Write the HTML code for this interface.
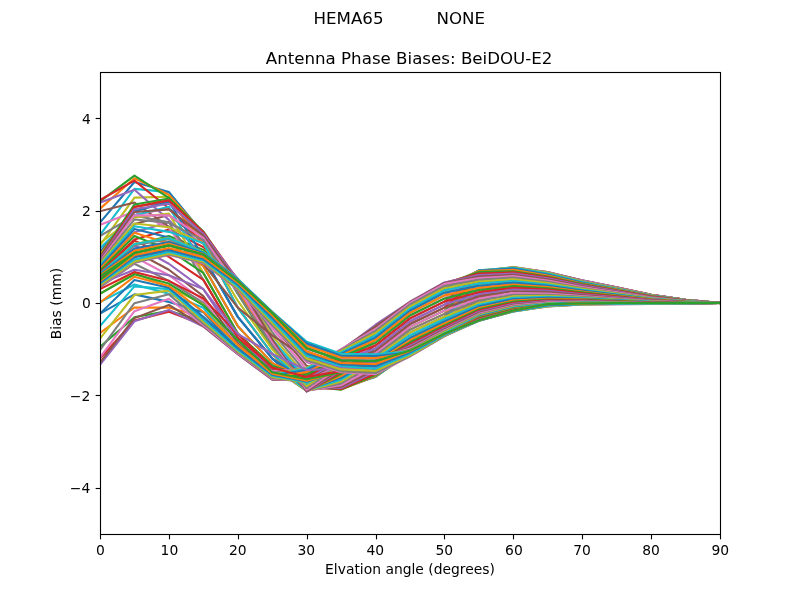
<!DOCTYPE html>
<html><head><meta charset="utf-8"><title>Antenna Phase Biases</title>
<style>html,body{margin:0;padding:0;background:#fff}svg{display:block}text{font-family:'DejaVu Sans','Liberation Sans',sans-serif;fill:#000}</style></head><body>
<svg width="800" height="600" viewBox="0 0 800 600">
<rect x="0" y="0" width="800" height="600" fill="#fff"/>
<g stroke="#000" stroke-width="1.111" fill="none">
<path d="M100.50 534.5v4.861"/>
<path d="M169.50 534.5v4.861"/>
<path d="M238.50 534.5v4.861"/>
<path d="M307.50 534.5v4.861"/>
<path d="M376.50 534.5v4.861"/>
<path d="M444.50 534.5v4.861"/>
<path d="M513.50 534.5v4.861"/>
<path d="M582.50 534.5v4.861"/>
<path d="M651.50 534.5v4.861"/>
<path d="M720.50 534.5v4.861"/>
<path d="M100.5 488.50h-4.861"/>
<path d="M100.5 395.50h-4.861"/>
<path d="M100.5 303.50h-4.861"/>
<path d="M100.5 211.50h-4.861"/>
<path d="M100.5 118.50h-4.861"/>
</g>
<g font-size="13.889" text-anchor="middle">
<text x="100.44" y="555.32">0</text>
<text x="169.45" y="555.32">10</text>
<text x="237.83" y="555.32">20</text>
<text x="306.39" y="555.32">30</text>
<text x="375.31" y="555.32">40</text>
<text x="444.33" y="555.32">50</text>
<text x="513.95" y="555.32">60</text>
<text x="582.14" y="555.32">70</text>
<text x="650.98" y="555.32">80</text>
<text x="720.38" y="555.32">90</text>
<text x="410.05" y="574.27">Elvation angle (degrees)</text>
</g>
<g font-size="13.889" text-anchor="end">
<text x="90.28" y="493.03">−4</text>
<text x="90.28" y="400.68">−2</text>
<text x="90.72" y="308.37">0</text>
<text x="90.75" y="215.88">2</text>
<text x="90.78" y="124.41">4</text>
</g>
<text font-size="13.889" text-anchor="middle" transform="translate(61.36 303.60) rotate(-90)">Bias (mm)</text>
<text font-size="16.667" text-anchor="middle" x="409.10" y="63.67">Antenna Phase Biases: BeiDOU-E2</text>
<text font-size="16.667" text-anchor="middle" x="399.25" y="23.81" xml:space="preserve" style="white-space:pre">HEMA65          NONE</text>
<defs><clipPath id="c"><rect x="100.5" y="72.5" width="620" height="462"/></clipPath></defs>
<g clip-path="url(#c)" fill="none" stroke-width="2.083" stroke-linejoin="round" stroke-linecap="square">
<polyline stroke="#1f77b4" points="100.00,279.90 134.44,253.10 168.89,245.48 203.33,254.58 237.78,281.29 272.22,313.16 306.67,348.28 341.11,360.29 375.56,361.21 410.00,350.47 444.44,333.52 478.89,320.45 513.33,310.99 547.78,304.45 582.22,303.73 616.67,302.96 651.11,302.98 685.56,302.99 720.00,303.00"/>
<polyline stroke="#ff7f0e" points="100.00,277.86 134.44,249.77 168.89,241.39 203.33,252.18 237.78,280.36 272.22,314.55 306.67,351.51 341.11,362.64 375.56,362.89 410.00,350.85 444.44,333.62 478.89,320.27 513.33,310.89 547.78,304.49 582.22,303.67 616.67,302.97 651.11,303.01 685.56,303.02 720.00,303.00"/>
<polyline stroke="#2ca02c" points="100.00,275.28 134.44,245.25 168.89,236.01 203.33,249.87 237.78,279.44 272.22,316.40 306.67,354.74 341.11,366.76 375.56,365.83 410.00,352.03 444.44,334.03 478.89,320.15 513.33,310.92 547.78,304.81 582.22,303.65 616.67,303.09 651.11,303.14 685.56,303.10 720.00,303.00"/>
<polyline stroke="#d62728" points="100.00,272.11 134.44,239.40 168.89,229.41 203.33,247.10 237.78,278.98 272.22,318.71 306.67,358.44 341.11,370.65 375.56,368.68 410.00,353.45 444.44,334.53 478.89,319.57 513.33,310.28 547.78,304.60 582.22,303.20 616.67,302.93 651.11,303.14 685.56,303.12 720.00,303.00"/>
<polyline stroke="#9467bd" points="100.00,268.35 134.44,232.31 168.89,222.15 203.33,243.86 237.78,278.51 272.22,321.48 306.67,362.14 341.11,374.61 375.56,371.38 410.00,354.54 444.44,334.92 478.89,318.37 513.33,309.14 547.78,304.00 582.22,302.53 616.67,302.60 651.11,303.03 685.56,303.11 720.00,303.00"/>
<polyline stroke="#8c564b" points="100.00,264.13 134.44,224.09 168.89,215.06 203.33,241.55 237.78,278.98 272.22,324.71 306.67,365.83 341.11,378.30 375.56,373.47 410.00,354.85 444.44,335.07 478.89,316.95 513.33,307.75 547.78,303.02 582.22,301.64 616.67,302.06 651.11,302.76 685.56,303.02 720.00,303.00"/>
<polyline stroke="#e377c2" points="100.00,259.11 134.44,215.22 168.89,208.29 203.33,239.24 237.78,279.90 272.22,328.41 306.67,369.53 341.11,381.54 375.56,375.07 410.00,354.51 444.44,334.87 478.89,315.36 513.33,305.73 547.78,301.29 582.22,300.25 616.67,301.09 651.11,302.23 685.56,302.81 720.00,303.00"/>
<polyline stroke="#7f7f7f" points="100.00,252.90 134.44,206.47 168.89,202.21 203.33,237.40 237.78,281.75 272.22,332.11 306.67,373.22 341.11,384.11 375.56,376.30 410.00,353.74 444.44,334.40 478.89,313.32 513.33,302.74 547.78,298.64 582.22,298.24 616.67,299.66 651.11,301.42 685.56,302.49 720.00,303.00"/>
<polyline stroke="#bcbd22" points="100.00,245.25 134.44,197.66 168.89,196.74 203.33,236.01 237.78,283.60 272.22,335.80 306.67,376.92 341.11,386.16 375.56,376.92 410.00,352.79 444.44,333.76 478.89,310.57 513.33,298.81 547.78,295.04 582.22,295.51 616.67,297.66 651.11,300.27 685.56,302.03 720.00,303.00"/>
<polyline stroke="#17becf" points="100.00,235.09 134.44,188.89 168.89,192.12 203.33,234.62 237.78,285.91 272.22,339.50 306.67,379.69 341.11,387.84 375.56,376.78 410.00,351.81 444.44,333.03 478.89,307.15 513.33,293.59 547.78,290.33 582.22,292.15 616.67,295.28 651.11,298.95 685.56,301.49 720.00,303.00"/>
<polyline stroke="#1f77b4" points="100.00,222.61 134.44,181.96 168.89,192.12 203.33,233.70 237.78,288.22 272.22,342.73 306.67,382.46 341.11,388.93 375.56,376.46 410.00,350.73 444.44,332.27 478.89,302.90 513.33,287.84 547.78,285.70 582.22,288.87 616.67,292.94 651.11,297.63 685.56,300.96 720.00,303.00"/>
<polyline stroke="#ff7f0e" points="100.00,208.75 134.44,178.26 168.89,194.75 203.33,233.24 237.78,290.53 272.22,345.50 306.67,384.77 341.11,389.42 375.56,375.93 410.00,349.72 444.44,331.36 478.89,300.83 513.33,286.15 547.78,284.42 582.22,287.96 616.67,292.30 651.11,297.27 685.56,300.81 720.00,303.00"/>
<polyline stroke="#2ca02c" points="100.00,201.36 134.44,175.58 168.89,197.76 203.33,232.78 237.78,293.76 272.22,348.28 306.67,386.16 341.11,389.62 375.56,375.07 410.00,348.59 444.44,330.42 478.89,298.62 513.33,284.47 547.78,283.10 582.22,287.05 616.67,291.66 651.11,296.93 685.56,300.68 720.00,303.00"/>
<polyline stroke="#d62728" points="100.00,199.97 134.44,180.57 168.89,208.29 203.33,242.94 237.78,307.62 272.22,353.82 306.67,387.55 341.11,389.07 375.56,373.49 410.00,347.29 444.44,329.39 478.89,296.43 513.33,282.77 547.78,281.76 582.22,286.17 616.67,291.07 651.11,296.62 685.56,300.55 720.00,303.00"/>
<polyline stroke="#9467bd" points="100.00,202.52 134.44,189.81 168.89,219.84 203.33,256.80 237.78,316.86 272.22,358.44 306.67,388.47 341.11,388.01 375.56,371.38 410.00,345.79 444.44,328.23 478.89,294.31 513.33,281.02 547.78,280.49 582.22,285.37 616.67,290.55 651.11,296.35 685.56,300.44 720.00,303.00"/>
<polyline stroke="#8c564b" points="100.00,211.29 134.44,202.52 168.89,226.77 203.33,266.04 237.78,326.10 272.22,363.06 306.67,389.86 341.11,386.76 375.56,369.21 410.00,344.13 444.44,326.90 478.89,292.19 513.33,279.26 547.78,279.33 582.22,284.67 616.67,290.08 651.11,296.10 685.56,300.34 720.00,303.00"/>
<polyline stroke="#e377c2" points="100.00,224.92 134.44,211.52 168.89,228.16 203.33,272.97 237.78,333.49 272.22,365.83 306.67,390.78 341.11,385.24 375.56,366.76 410.00,342.30 444.44,325.32 478.89,290.07 513.33,277.59 547.78,278.30 582.22,284.02 616.67,289.64 651.11,295.86 685.56,300.24 720.00,303.00"/>
<polyline stroke="#7f7f7f" points="100.00,236.01 134.44,215.72 168.89,222.15 203.33,279.90 237.78,337.65 272.22,367.68 306.67,390.78 341.11,383.45 375.56,363.63 410.00,340.26 444.44,323.54 478.89,287.95 513.33,276.10 547.78,277.36 582.22,283.41 616.67,289.21 651.11,295.63 685.56,300.15 720.00,303.00"/>
<polyline stroke="#bcbd22" points="100.00,242.94 134.44,217.53 168.89,213.51 203.33,272.97 237.78,333.49 272.22,365.83 306.67,390.78 341.11,381.54 375.56,360.75 410.00,338.00 444.44,321.55 478.89,285.75 513.33,274.78 547.78,276.47 582.22,282.79 616.67,288.77 651.11,295.37 685.56,300.04 720.00,303.00"/>
<polyline stroke="#17becf" points="100.00,248.21 134.44,215.34 168.89,206.77 203.33,266.04 237.78,326.10 272.22,363.06 306.67,390.32 341.11,379.69 375.56,359.06 410.00,335.40 444.44,319.31 478.89,283.55 513.33,273.56 547.78,275.58 582.22,282.13 616.67,288.28 651.11,295.09 685.56,299.93 720.00,303.00"/>
<polyline stroke="#1f77b4" points="100.00,252.18 134.44,211.52 168.89,201.82 203.33,256.80 237.78,316.86 272.22,358.44 306.67,389.86 341.11,377.84 375.56,357.52 410.00,332.52 444.44,316.79 478.89,281.49 513.33,272.39 547.78,274.61 582.22,281.42 616.67,287.83 651.11,294.89 685.56,299.85 720.00,303.00"/>
<polyline stroke="#ff7f0e" points="100.00,254.88 134.44,207.15 168.89,199.51 203.33,242.94 237.78,307.62 272.22,353.82 306.67,390.20 341.11,376.00 375.56,355.53 410.00,329.63 444.44,313.83 478.89,279.69 513.33,271.20 547.78,273.58 582.22,280.91 616.67,287.58 651.11,294.79 685.56,299.81 720.00,303.00"/>
<polyline stroke="#2ca02c" points="100.00,256.80 134.44,204.41 168.89,198.59 203.33,231.39 237.78,282.21 272.22,346.89 306.67,390.78 341.11,374.15 375.56,353.36 410.00,326.85 444.44,310.68 478.89,278.10 513.33,269.85 547.78,272.84 582.22,280.64 616.67,287.41 651.11,294.71 685.56,299.78 720.00,303.00"/>
<polyline stroke="#d62728" points="100.00,258.05 134.44,206.90 168.89,200.39 203.33,232.08 237.78,279.90 272.22,342.73 306.67,391.36 341.11,372.30 375.56,351.05 410.00,324.06 444.44,307.64 478.89,276.60 513.33,268.58 547.78,272.45 582.22,280.44 616.67,287.31 651.11,294.68 685.56,299.77 720.00,303.00"/>
<polyline stroke="#9467bd" points="100.00,259.11 134.44,209.21 168.89,203.76 203.33,233.70 237.78,279.90 272.22,339.50 306.67,391.70 341.11,370.45 375.56,348.51 410.00,321.27 444.44,304.62 478.89,275.12 513.33,267.85 547.78,272.16 582.22,280.36 616.67,287.31 651.11,294.71 685.56,299.78 720.00,303.00"/>
<polyline stroke="#8c564b" points="100.00,260.26 134.44,211.99 168.89,209.40 203.33,235.55 237.78,282.21 272.22,339.50 306.67,391.09 341.11,368.66 375.56,345.50 410.00,318.39 444.44,301.60 478.89,273.46 513.33,267.39 547.78,272.05 582.22,280.44 616.67,287.41 651.11,294.79 685.56,299.81 720.00,303.00"/>
<polyline stroke="#e377c2" points="100.00,261.42 134.44,215.22 168.89,215.40 203.33,237.86 237.78,286.83 272.22,342.73 306.67,389.86 341.11,366.76 375.56,342.73 410.00,315.50 444.44,298.49 478.89,271.88 513.33,267.10 547.78,272.16 582.22,280.64 616.67,287.58 651.11,294.89 685.56,299.85 720.00,303.00"/>
<polyline stroke="#7f7f7f" points="100.00,262.53 134.44,219.42 168.89,222.61 203.33,240.17 237.78,293.76 272.22,345.50 306.67,388.21 341.11,364.51 375.56,339.96 410.00,312.91 444.44,295.39 478.89,271.04 513.33,267.10 547.78,272.45 582.22,280.91 616.67,287.83 651.11,295.09 685.56,299.93 720.00,303.00"/>
<polyline stroke="#bcbd22" points="100.00,263.73 134.44,223.54 168.89,227.23 203.33,243.40 237.78,300.69 272.22,349.20 306.67,386.16 341.11,362.14 375.56,337.65 410.00,310.71 444.44,292.68 478.89,270.51 513.33,267.39 547.78,272.84 582.22,281.42 616.67,288.28 651.11,295.37 685.56,300.04 720.00,303.00"/>
<polyline stroke="#17becf" points="100.00,265.25 134.44,226.33 168.89,231.85 203.33,242.94 237.78,307.62 272.22,353.82 306.67,383.91 341.11,359.76 375.56,335.57 410.00,308.72 444.44,290.40 478.89,270.29 513.33,267.85 547.78,273.58 582.22,282.13 616.67,288.77 651.11,295.63 685.56,300.15 720.00,303.00"/>
<polyline stroke="#1f77b4" points="100.00,266.96 134.44,229.08 168.89,237.40 203.33,256.80 237.78,316.86 272.22,358.44 306.67,381.54 341.11,357.52 375.56,333.03 410.00,306.77 444.44,288.29 478.89,270.51 513.33,268.58 547.78,274.61 582.22,282.79 616.67,289.21 651.11,295.86 685.56,300.24 720.00,303.00"/>
<polyline stroke="#ff7f0e" points="100.00,268.73 134.44,232.78 168.89,243.44 203.33,266.04 237.78,326.10 272.22,363.06 306.67,379.23 341.11,355.59 375.56,330.95 410.00,304.54 444.44,286.02 478.89,271.04 513.33,269.85 547.78,275.58 582.22,283.41 616.67,289.64 651.11,296.10 685.56,300.34 720.00,303.00"/>
<polyline stroke="#2ca02c" points="100.00,270.66 134.44,236.01 168.89,249.87 203.33,272.97 237.78,333.49 272.22,365.83 306.67,376.92 341.11,353.82 375.56,329.01 410.00,302.87 444.44,283.87 478.89,271.88 513.33,271.20 547.78,276.47 582.22,284.02 616.67,290.08 651.11,296.35 685.56,300.44 720.00,303.00"/>
<polyline stroke="#d62728" points="100.00,272.79 134.44,240.63 168.89,256.80 203.33,279.90 237.78,337.65 272.22,367.68 306.67,374.55 341.11,352.01 375.56,326.33 410.00,302.09 444.44,282.94 478.89,273.46 513.33,272.39 547.78,277.36 582.22,284.67 616.67,290.55 651.11,296.62 685.56,300.55 720.00,303.00"/>
<polyline stroke="#9467bd" points="100.00,275.28 134.44,245.25 168.89,263.73 203.33,289.14 237.78,340.88 272.22,369.07 306.67,372.30 341.11,350.59 375.56,324.71 410.00,301.75 444.44,282.53 478.89,275.12 513.33,273.56 547.78,278.30 582.22,285.37 616.67,291.07 651.11,296.93 685.56,300.68 720.00,303.00"/>
<polyline stroke="#8c564b" points="100.00,278.36 134.44,251.26 168.89,269.74 203.33,296.07 237.78,343.66 272.22,370.22 306.67,370.12 341.11,349.65 375.56,326.33 410.00,302.09 444.44,282.94 478.89,276.60 513.33,274.78 547.78,279.33 582.22,286.17 616.67,291.66 651.11,297.27 685.56,300.81 720.00,303.00"/>
<polyline stroke="#e377c2" points="100.00,282.21 134.44,256.80 168.89,275.28 203.33,300.23 237.78,346.43 272.22,371.38 306.67,368.60 341.11,349.20 375.56,329.01 410.00,302.87 444.44,283.87 478.89,278.10 513.33,276.10 547.78,280.49 582.22,287.05 616.67,292.30 651.11,297.63 685.56,300.96 720.00,303.00"/>
<polyline stroke="#7f7f7f" points="100.00,287.24 134.44,263.73 168.89,280.82 203.33,303.00 237.78,347.35 272.22,372.80 306.67,367.96 341.11,349.85 375.56,330.95 410.00,304.54 444.44,286.02 478.89,279.69 513.33,277.59 547.78,281.76 582.22,287.96 616.67,292.94 651.11,297.98 685.56,301.10 720.00,303.00"/>
<polyline stroke="#bcbd22" points="100.00,293.76 134.44,272.97 168.89,286.83 203.33,304.39 237.78,348.28 272.22,374.15 306.67,367.68 341.11,351.05 375.56,333.03 410.00,306.77 444.44,288.29 478.89,281.49 513.33,279.26 547.78,283.10 582.22,288.87 616.67,293.57 651.11,298.32 685.56,301.24 720.00,303.00"/>
<polyline stroke="#17becf" points="100.00,302.11 134.44,284.52 168.89,293.76 203.33,307.74 237.78,349.20 272.22,375.09 306.67,368.45 341.11,352.34 375.56,335.57 410.00,308.72 444.44,290.40 478.89,283.55 513.33,281.02 547.78,284.42 582.22,289.75 616.67,294.18 651.11,298.66 685.56,301.38 720.00,303.00"/>
<polyline stroke="#1f77b4" points="100.00,313.63 134.44,294.36 168.89,301.89 203.33,312.24 237.78,350.12 272.22,376.00 306.67,369.99 341.11,353.82 375.56,337.65 410.00,310.71 444.44,292.68 478.89,285.75 513.33,282.77 547.78,285.70 582.22,290.63 616.67,294.80 651.11,299.00 685.56,301.51 720.00,303.00"/>
<polyline stroke="#ff7f0e" points="100.00,333.03 134.44,307.48 168.89,307.62 203.33,317.10 237.78,351.02 272.22,377.19 306.67,372.11 341.11,355.38 375.56,339.96 410.00,312.91 444.44,295.39 478.89,287.95 513.33,284.47 547.78,286.97 582.22,291.50 616.67,295.41 651.11,299.34 685.56,301.65 720.00,303.00"/>
<polyline stroke="#2ca02c" points="100.00,346.89 134.44,317.32 168.89,310.85 203.33,321.48 237.78,351.97 272.22,378.31 306.67,374.61 341.11,357.05 375.56,342.73 410.00,315.50 444.44,298.49 478.89,290.07 513.33,286.15 547.78,288.25 582.22,292.38 616.67,296.03 651.11,299.68 685.56,301.79 720.00,303.00"/>
<polyline stroke="#d62728" points="100.00,358.44 134.44,320.56 168.89,311.78 203.33,324.84 237.78,353.38 272.22,379.22 306.67,377.11 341.11,358.87 375.56,345.50 410.00,318.39 444.44,301.60 478.89,292.19 513.33,287.84 547.78,289.52 582.22,293.26 616.67,296.66 651.11,300.04 685.56,301.93 720.00,303.00"/>
<polyline stroke="#9467bd" points="100.00,364.91 134.44,321.25 168.89,309.93 203.33,326.56 237.78,354.28 272.22,379.69 306.67,379.23 341.11,360.75 375.56,348.51 410.00,321.27 444.44,304.62 478.89,294.31 513.33,289.52 547.78,290.80 582.22,294.18 616.67,297.30 651.11,300.39 685.56,302.08 720.00,303.00"/>
<polyline stroke="#8c564b" points="100.00,362.60 134.44,318.11 168.89,304.99 203.33,326.12 237.78,353.99 272.22,379.38 306.67,380.61 341.11,362.63 375.56,351.05 410.00,324.06 444.44,307.64 478.89,296.43 513.33,291.22 547.78,292.13 582.22,295.09 616.67,297.93 651.11,300.73 685.56,302.21 720.00,303.00"/>
<polyline stroke="#e377c2" points="100.00,357.52 134.44,311.22 168.89,298.75 203.33,325.18 237.78,353.36 272.22,378.77 306.67,381.54 341.11,364.45 375.56,353.36 410.00,326.85 444.44,310.68 478.89,298.62 513.33,292.98 547.78,293.46 582.22,295.96 616.67,298.51 651.11,301.03 685.56,302.34 720.00,303.00"/>
<polyline stroke="#7f7f7f" points="100.00,350.12 134.44,303.14 168.89,294.36 203.33,323.59 237.78,352.35 272.22,377.95 306.67,382.17 341.11,366.15 375.56,355.53 410.00,329.63 444.44,313.83 478.89,300.83 513.33,294.73 547.78,294.73 582.22,296.74 616.67,299.03 651.11,301.31 685.56,302.45 720.00,303.00"/>
<polyline stroke="#bcbd22" points="100.00,338.57 134.44,295.01 168.89,290.62 203.33,321.48 237.78,351.05 272.22,376.92 306.67,382.46 341.11,367.68 375.56,357.52 410.00,332.52 444.44,316.79 478.89,302.90 513.33,296.39 547.78,295.86 582.22,297.46 616.67,299.51 651.11,301.57 685.56,302.55 720.00,303.00"/>
<polyline stroke="#17becf" points="100.00,326.10 134.44,286.37 168.89,289.14 203.33,319.48 237.78,349.87 272.22,375.80 306.67,382.17 341.11,369.17 375.56,359.25 410.00,335.40 444.44,319.31 478.89,304.72 513.33,297.87 547.78,296.90 582.22,298.12 616.67,299.97 651.11,301.81 685.56,302.65 720.00,303.00"/>
<polyline stroke="#1f77b4" points="100.00,313.63 134.44,279.90 168.89,287.75 203.33,316.86 237.78,348.28 272.22,374.61 306.67,381.54 341.11,370.68 375.56,360.75 410.00,338.00 444.44,321.55 478.89,306.39 513.33,299.23 547.78,297.87 582.22,298.74 616.67,300.38 651.11,302.03 685.56,302.74 720.00,303.00"/>
<polyline stroke="#ff7f0e" points="100.00,302.54 134.44,276.67 168.89,285.91 203.33,311.85 237.78,344.85 272.22,373.66 306.67,380.62 341.11,371.84 375.56,362.24 410.00,340.26 444.44,323.54 478.89,307.92 513.33,300.49 547.78,298.77 582.22,299.31 616.67,300.77 651.11,302.23 685.56,302.82 720.00,303.00"/>
<polyline stroke="#2ca02c" points="100.00,293.76 134.44,274.36 168.89,283.60 203.33,305.31 237.78,339.96 272.22,372.30 306.67,379.23 341.11,372.30 375.56,363.06 410.00,342.30 444.44,325.32 478.89,309.32 513.33,301.66 547.78,299.60 582.22,299.85 616.67,301.13 651.11,302.43 685.56,302.90 720.00,303.00"/>
<polyline stroke="#d62728" points="100.00,289.14 134.44,272.05 168.89,280.82 203.33,298.38 237.78,333.95 272.22,367.68 306.67,376.92 341.11,371.14 375.56,362.78 410.00,344.13 444.44,326.90 478.89,310.60 513.33,302.74 547.78,300.37 582.22,300.35 616.67,301.47 651.11,302.61 685.56,302.97 720.00,303.00"/>
<polyline stroke="#9467bd" points="100.00,283.60 134.44,269.74 168.89,275.28 203.33,289.14 237.78,333.95 272.22,353.82 306.67,369.99 341.11,368.60 375.56,362.14 410.00,345.79 444.44,328.23 478.89,311.80 513.33,303.75 547.78,301.10 582.22,300.81 616.67,301.78 651.11,302.77 685.56,303.04 720.00,303.00"/>
<polyline stroke="#8c564b" points="100.00,278.98 134.44,256.80 168.89,252.18 203.33,263.73 237.78,307.62 272.22,335.34 306.67,358.44 341.11,363.98 375.56,360.57 410.00,347.29 444.44,329.39 478.89,312.88 513.33,304.69 547.78,301.78 582.22,301.23 616.67,302.06 651.11,302.91 685.56,303.10 720.00,303.00"/>
<polyline stroke="#e377c2" points="100.00,276.20 134.44,248.48 168.89,242.94 203.33,256.80 237.78,289.14 272.22,321.48 306.67,349.20 341.11,359.36 375.56,358.44 410.00,348.59 444.44,330.42 478.89,313.83 513.33,305.55 547.78,302.39 582.22,301.60 616.67,302.31 651.11,303.05 685.56,303.15 720.00,303.00"/>
<polyline stroke="#7f7f7f" points="100.00,274.36 134.44,245.25 168.89,239.24 203.33,253.10 237.78,281.29 272.22,314.55 306.67,344.58 341.11,356.13 375.56,356.59 410.00,349.72 444.44,331.36 478.89,314.68 513.33,306.33 547.78,302.93 582.22,301.95 616.67,302.54 651.11,303.17 685.56,303.20 720.00,303.00"/>
<polyline stroke="#bcbd22" points="100.00,273.89 134.44,243.86 168.89,237.86 203.33,251.72 237.78,278.98 272.22,312.24 306.67,342.27 341.11,354.28 375.56,355.21 410.00,350.73 444.44,332.27 478.89,315.46 513.33,307.02 547.78,303.43 582.22,302.27 616.67,302.76 651.11,303.29 685.56,303.25 720.00,303.00"/>
<polyline stroke="#17becf" points="100.00,273.89 134.44,244.00 168.89,238.32 203.33,252.18 237.78,278.98 272.22,311.78 306.67,341.81 341.11,353.82 375.56,354.28 410.00,351.65 444.44,333.21 478.89,316.18 513.33,307.66 547.78,303.89 582.22,302.57 616.67,302.96 651.11,303.40 685.56,303.29 720.00,303.00"/>
<polyline stroke="#1f77b4" points="100.00,274.36 134.44,248.48 168.89,242.02 203.33,253.10 237.78,279.90 272.22,312.24 306.67,343.19 341.11,355.67 375.56,356.13 410.00,352.50 444.44,334.09 478.89,316.84 513.33,308.26 547.78,304.33 582.22,302.85 616.67,303.15 651.11,303.50 685.56,303.33 720.00,303.00"/>
<polyline stroke="#ff7f0e" points="100.00,275.28 134.44,250.79 168.89,243.86 203.33,254.03 237.78,280.82 272.22,312.70 306.67,345.97 341.11,357.52 375.56,357.98 410.00,353.35 444.44,334.85 478.89,317.48 513.33,308.81 547.78,304.73 582.22,303.11 616.67,303.33 651.11,303.60 685.56,303.38 720.00,303.00"/>
<polyline stroke="#2ca02c" points="100.00,276.20 134.44,253.10 168.89,245.25 203.33,254.49 237.78,281.29 272.22,312.70 306.67,348.28 341.11,360.29 375.56,360.75 410.00,354.21 444.44,335.40 478.89,318.13 513.33,309.34 547.78,305.12 582.22,303.37 616.67,303.52 651.11,303.71 685.56,303.42 720.00,303.00"/>
<polyline stroke="#d62728" points="100.00,278.97 134.44,256.75 168.89,248.69 203.33,256.93 237.78,283.51 272.22,315.82 306.67,351.87 341.11,364.05 375.56,364.66 410.00,355.02 444.44,335.70 478.89,318.78 513.33,309.84 547.78,305.50 582.22,303.64 616.67,303.71 651.11,303.81 685.56,303.46 720.00,303.00"/>
<polyline stroke="#9467bd" points="100.00,282.21 134.44,260.03 168.89,252.18 203.33,260.03 237.78,286.37 272.22,320.56 306.67,355.67 341.11,367.68 375.56,368.60 410.00,355.72 444.44,335.91 478.89,319.41 513.33,310.34 547.78,305.88 582.22,303.91 616.67,303.89 651.11,303.90 685.56,303.50 720.00,303.00"/>
<polyline stroke="#8c564b" points="100.00,284.63 134.44,261.92 168.89,254.06 203.33,262.16 237.78,288.48 272.22,324.14 306.67,359.23 341.11,370.70 375.56,372.19 410.00,356.20 444.44,336.07 478.89,319.98 513.33,310.83 547.78,306.22 582.22,304.15 616.67,304.04 651.11,303.98 685.56,303.53 720.00,303.00"/>
<polyline stroke="#e377c2" points="100.00,285.91 134.44,262.81 168.89,254.95 203.33,263.27 237.78,289.60 272.22,326.10 306.67,361.21 341.11,372.30 375.56,374.15 410.00,356.31 444.44,336.13 478.89,320.43 513.33,311.25 547.78,306.47 582.22,304.34 616.67,304.14 651.11,304.02 685.56,303.54 720.00,303.00"/>
<polyline stroke="#7f7f7f" points="100.00,285.63 134.44,262.38 168.89,254.51 203.33,262.75 237.78,288.96 272.22,324.97 306.67,360.31 341.11,371.37 375.56,373.02 410.00,356.00 444.44,336.01 478.89,320.72 513.33,311.52 547.78,306.52 582.22,304.43 616.67,304.14 651.11,303.98 685.56,303.51 720.00,303.00"/>
<polyline stroke="#bcbd22" points="100.00,284.98 134.44,261.42 168.89,253.57 203.33,261.74 237.78,287.75 272.22,322.87 306.67,358.44 341.11,369.39 375.56,370.91 410.00,355.23 444.44,335.65 478.89,320.79 513.33,311.56 547.78,306.28 582.22,304.38 616.67,303.99 651.11,303.84 685.56,303.44 720.00,303.00"/>
<polyline stroke="#17becf" points="100.00,283.60 134.44,259.36 168.89,252.04 203.33,260.50 237.78,286.37 272.22,320.56 306.67,355.67 341.11,366.06 375.56,368.60 410.00,353.95 444.44,335.07 478.89,320.67 513.33,311.35 547.78,305.72 582.22,304.18 616.67,303.69 651.11,303.58 685.56,303.30 720.00,303.00"/>
<polyline stroke="#1f77b4" points="100.00,282.67 134.44,256.80 168.89,250.01 203.33,259.11 237.78,284.52 272.22,317.78 306.67,353.36 341.11,364.45 375.56,366.29 410.00,352.40 444.44,334.40 478.89,320.49 513.33,310.97 547.78,304.98 582.22,303.88 616.67,303.29 651.11,303.28 685.56,303.15 720.00,303.00"/>
<polyline stroke="#ff7f0e" points="100.00,281.29 134.44,255.07 168.89,248.01 203.33,257.26 237.78,282.67 272.22,315.47 306.67,351.51 341.11,363.06 375.56,363.98 410.00,351.10 444.44,333.85 478.89,320.35 513.33,310.61 547.78,304.32 582.22,303.63 616.67,302.97 651.11,303.02 685.56,303.02 720.00,303.00"/>
<polyline stroke="#2ca02c" points="100.00,279.90 134.44,253.10 168.89,245.48 203.33,254.58 237.78,281.29 272.22,313.16 306.67,348.28 341.11,360.29 375.56,361.21 410.00,350.59 444.44,333.63 478.89,320.37 513.33,310.53 547.78,304.11 582.22,303.57 616.67,302.87 651.11,302.94 685.56,302.97 720.00,303.00"/>
</g>
<rect x="100.5" y="72.5" width="620" height="462" fill="none" stroke="#000" stroke-width="1.111" stroke-linejoin="miter"/>
</svg></body></html>
